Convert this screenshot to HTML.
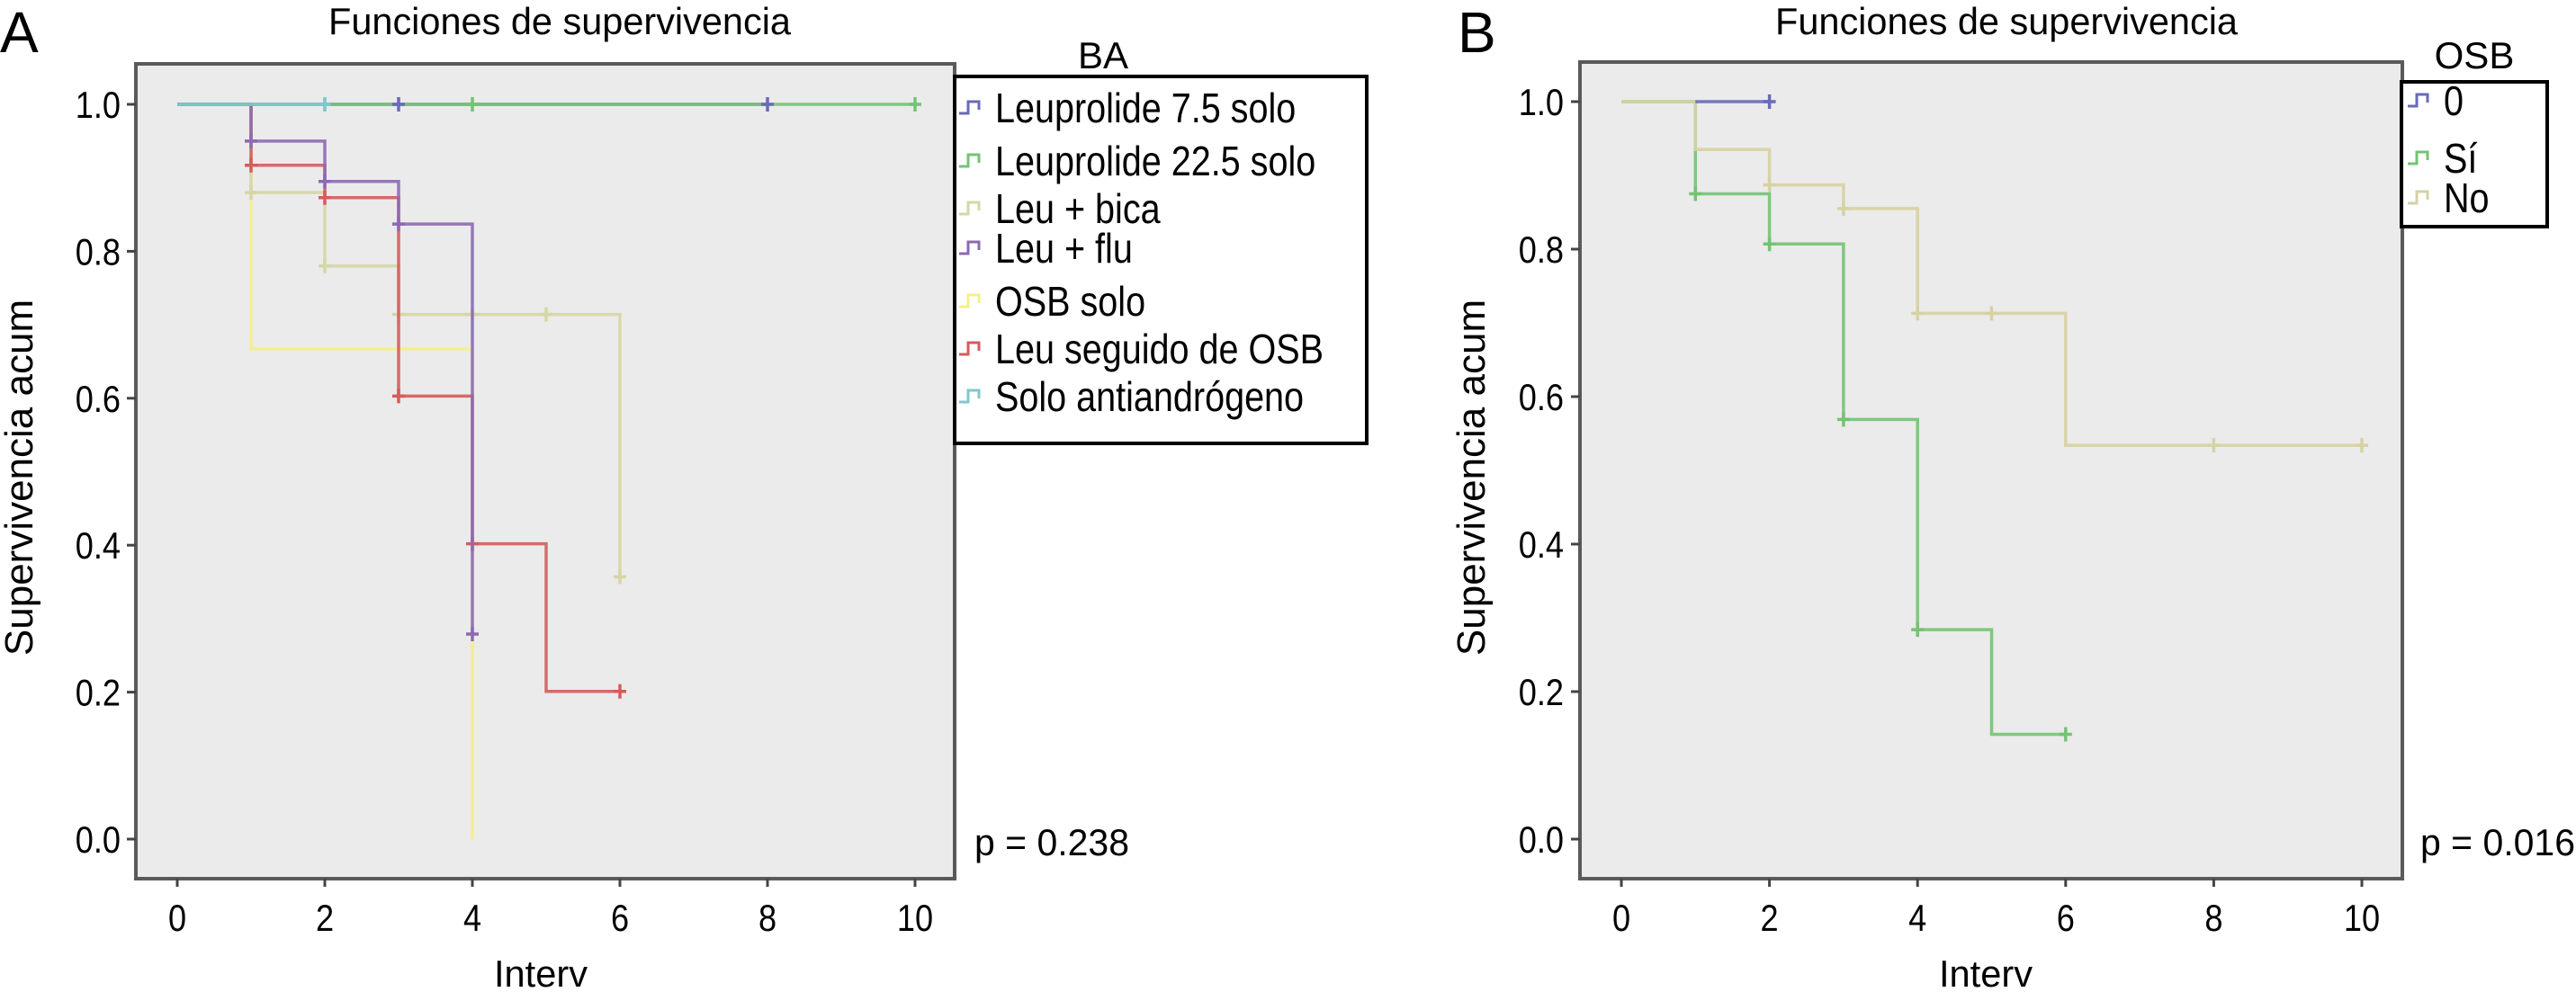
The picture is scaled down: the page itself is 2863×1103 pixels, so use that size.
<!DOCTYPE html>
<html><head><meta charset="utf-8">
<style>
html,body{margin:0;padding:0;background:#fff;}
svg{display:block;font-family:"Liberation Sans",sans-serif;}
</style></head>
<body>
<svg id="fig" width="2863" height="1103" viewBox="0 0 2863 1103">
  <g>
    <text x="0" y="58" font-size="64">A</text>
    <text x="622" y="38" font-size="42" text-anchor="middle" textLength="514" lengthAdjust="spacingAndGlyphs">Funciones de supervivencia</text>
    <rect x="151" y="71" width="910" height="906" fill="#ebebeb" stroke="#5a5a5a" stroke-width="4"/>
    <g id="plotA"></g>
    <g id="axesA"></g>
    <text x="601" y="1097" font-size="42" text-anchor="middle" textLength="104" lengthAdjust="spacingAndGlyphs">Interv</text>
    <text transform="translate(36,531) rotate(-90)" font-size="44" text-anchor="middle">Supervivencia acum</text>
    <text x="1083" y="951" font-size="42" textLength="172" lengthAdjust="spacingAndGlyphs">p = 0.238</text>
    <text x="1226" y="76" font-size="42" text-anchor="middle">BA</text>
    <rect x="1061" y="85" width="458" height="408" fill="#fff" stroke="#000" stroke-width="4"/>
    <g id="legendA"></g>
  </g>
  <g>
    <text x="1620" y="58" font-size="64">B</text>
    <text x="2230" y="38" font-size="42" text-anchor="middle" textLength="514" lengthAdjust="spacingAndGlyphs">Funciones de supervivencia</text>
    <rect x="1756" y="69" width="914" height="908" fill="#ebebeb" stroke="#5a5a5a" stroke-width="4"/>
    <g id="plotB"></g>
    <g id="axesB"></g>
    <text x="2207" y="1097" font-size="42" text-anchor="middle" textLength="104" lengthAdjust="spacingAndGlyphs">Interv</text>
    <text transform="translate(1650,531) rotate(-90)" font-size="44" text-anchor="middle">Supervivencia acum</text>
    <text x="2690" y="951" font-size="42" textLength="172" lengthAdjust="spacingAndGlyphs">p = 0.016</text>
    <text x="2750" y="76" font-size="42" text-anchor="middle">OSB</text>
    <rect x="2669" y="91" width="162" height="161" fill="#fff" stroke="#000" stroke-width="4"/>
    <g id="legendB"></g>
  </g>
</svg>
<script>
const xTicks = [0, 2, 4, 6, 8, 10];
const yTicks = [0.0, 0.2, 0.4, 0.6, 0.8, 1.0];
const yTickLabels = ["0.0", "0.2", "0.4", "0.6", "0.8", "1.0"];

const seriesNamesA = ["Leuprolide 7.5 solo","Leuprolide 22.5 solo","Leu + bica","Leu + flu","OSB solo","Leu seguido de OSB","Solo antiandrógeno"];
const colorsA = ["#6a6ab8","#74c374","#d6d6a6","#8c6ab2","#f3f08c","#d45c5c","#80c8cc"];
const leu75Times = [0, 8];          const leu75Surv = [1.0, 1.0];     const leu75Cens = [3, 8];
const leu225Times = [0, 10];        const leu225Surv = [1.0, 1.0];    const leu225Cens = [2, 4, 10];
const bicaTimes = [0, 1, 2, 3, 6, 6];  const bicaSurv = [1.0, 0.88, 0.78, 0.714, 0.357, 0.357]; const bicaCens = [1, 2, 3, 4, 5, 6];
const fluTimes = [0, 1, 2, 3, 4, 4];   const fluSurv = [1.0, 0.95, 0.895, 0.837, 0.279, 0.279]; const fluCens = [1, 2, 3, 4];
const osbTimes = [0, 1, 4, 4];         const osbSurv = [1.0, 0.667, 0.0, 0.0]; const osbCens = [];
const leuOsbTimes = [0, 1, 2, 3, 4, 5, 6]; const leuOsbSurv = [1.0, 0.917, 0.873, 0.603, 0.402, 0.201, 0.201]; const leuOsbCens = [1, 2, 3, 4, 6];
const antiTimes = [0, 2];              const antiSurv = [1.0, 1.0];      const antiCens = [2];

const seriesNamesB = ["0", "Sí", "No"];
const colorsB = ["#6a6ab8", "#74c374", "#d6d2a2"];
const zeroTimes = [1, 2];   const zeroSurv = [1.0, 1.0];  const zeroCens = [2];
const siTimes = [0, 1, 2, 3, 4, 5, 6]; const siSurv = [1.0, 0.875, 0.807, 0.569, 0.284, 0.142, 0.142]; const siCens = [1, 2, 3, 4, 6];
const noTimes = [0, 1, 2, 3, 4, 6, 10]; const noSurv = [1.0, 0.935, 0.887, 0.855, 0.713, 0.534, 0.534]; const noCens = [2, 3, 4, 5, 8, 10];

const NS = "http://www.w3.org/2000/svg";
function mk(tag, attrs, parent){ const e=document.createElementNS(NS,tag); for(const k in attrs) e.setAttribute(k,attrs[k]); parent.appendChild(e); return e; }
function makeScales(x0px, x10px, y0px, y1px){
  return { x: v => x0px + (x10px - x0px) * v / 10, y: v => y0px + (y1px - y0px) * v };
}
function survAt(times, surv, t){ let s=surv[0]; for(let i=0;i<times.length;i++){ if(times[i]<=t) s=surv[i]; } return s; }

function drawLine(g, sc, times, surv, color, name){
  let d = "M" + sc.x(times[0]) + " " + sc.y(surv[0]);
  for(let i=1;i<times.length;i++){ d += " H" + sc.x(times[i]) + " V" + sc.y(surv[i]); }
  const p = mk("path", {d:d, fill:"none", stroke:color, "stroke-width":3.5, "stroke-opacity":0.9}, g);
  
  
}
function drawCens(g, sc, times, surv, cens, color, name){
  cens.forEach(t => {
    const cx = sc.x(t), cy = sc.y(survAt(times, surv, t));
    const c = mk("path", {d:`M${cx-7} ${cy} H${cx+7} M${cx} ${cy-8} V${cy+8}`, stroke:color, "stroke-width":3.5, fill:"none"}, g);
    
    
  });
}
function drawSeries(g, sc, times, surv, cens, color, name){
  drawLine(g, sc, times, surv, color, name);
  drawCens(g, sc, times, surv, cens, color, name);
}
function condText(g, x, y, size, anchor, str){
  const t = mk("text", {transform:`translate(${x},${y}) scale(0.86,1)`, "font-size":size, "text-anchor":anchor}, g);
  t.textContent = str;
  return t;
}
function drawAxes(g, sc, left, bottom, labelRight){
  xTicks.forEach(v => {
    const t = mk("line", {x1:sc.x(v), x2:sc.x(v), y1:bottom, y2:bottom+9, stroke:"#444", "stroke-width":3}, g);
    
    
    const l = condText(g, sc.x(v), bottom+58, 42, "middle", String(v));
    
    
  });
  yTicks.forEach((v,i) => {
    const t = mk("line", {x1:left-10, x2:left, y1:sc.y(v), y2:sc.y(v), stroke:"#444", "stroke-width":3}, g);
    
    
    const l = condText(g, labelRight, sc.y(v)+15, 42, "end", yTickLabels[i]);
    
    
  });
}
function drawLegend(g, x, ys, names, colors){
  names.forEach((n,i) => {
    const y = ys[i];
    const ic = mk("path", {d:`M${x} ${y+6} H${x+10} V${y-7} H${x+22} V${y+2}`, fill:"none", stroke:colors[i], "stroke-width":3}, g);
    
    
    const t = condText(g, x+40, y+16, 46, "start", n);
    
    
  });
}

const scA = makeScales(197, 1017, 933, 116);
const gA = document.getElementById("plotA");
drawSeries(gA, scA, osbTimes, osbSurv, osbCens, colorsA[4], "osb-solo");
drawSeries(gA, scA, bicaTimes, bicaSurv, bicaCens, colorsA[2], "leu-bica");
drawSeries(gA, scA, leuOsbTimes, leuOsbSurv, leuOsbCens, colorsA[5], "leu-seguido-osb");
drawSeries(gA, scA, fluTimes, fluSurv, fluCens, colorsA[3], "leu-flu");
drawLine(gA, scA, leu75Times, leu75Surv, colorsA[0], "leuprolide-7-5");
drawSeries(gA, scA, leu225Times, leu225Surv, leu225Cens, colorsA[1], "leuprolide-22-5");
drawSeries(gA, scA, antiTimes, antiSurv, antiCens, colorsA[6], "solo-antiandrogeno");
drawCens(gA, scA, leu75Times, leu75Surv, leu75Cens, colorsA[0], "leuprolide-7-5");
drawAxes(document.getElementById("axesA"), scA, 151, 977, 134);
drawLegend(document.getElementById("legendA"), 1066, [120,179,232,276,335,388,441], seriesNamesA, colorsA);

const scB = makeScales(1802, 2625, 933, 113);
const gB = document.getElementById("plotB");
drawSeries(gB, scB, siTimes, siSurv, siCens, colorsB[1], "osb-si");
drawSeries(gB, scB, noTimes, noSurv, noCens, colorsB[2], "osb-no");
drawSeries(gB, scB, zeroTimes, zeroSurv, zeroCens, colorsB[0], "osb-0");
drawAxes(document.getElementById("axesB"), scB, 1756, 977, 1738);
drawLegend(document.getElementById("legendB"), 2676, [112,176,220], seriesNamesB, colorsB);
</script>
</body></html>
